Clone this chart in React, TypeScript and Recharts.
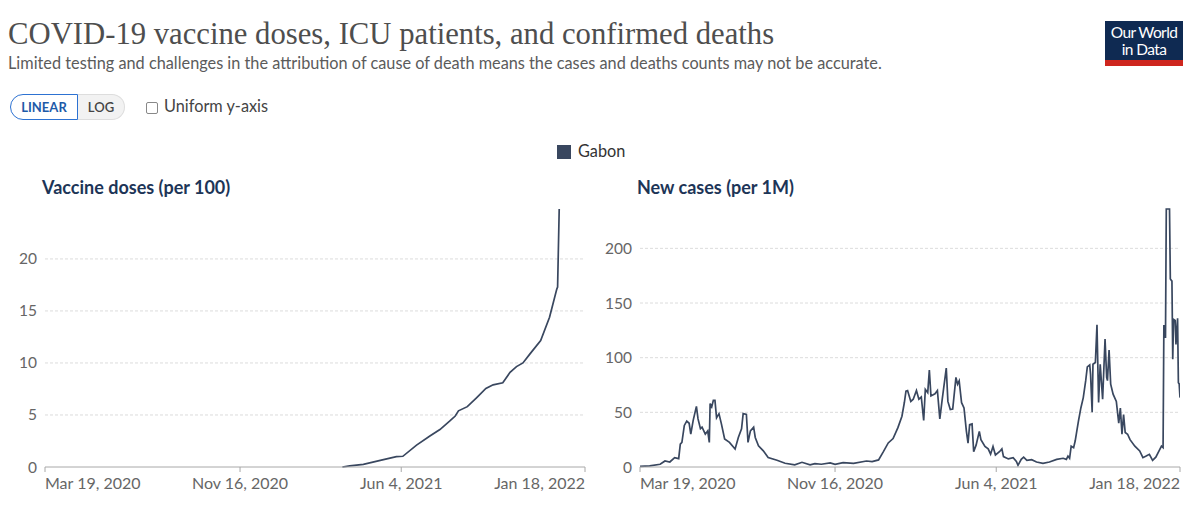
import React from "react";
import { LineChart, Line, XAxis, YAxis, ReferenceLine } from "recharts";

// x values are days counted from Mar 19, 2020
const tickDays = [0, 242, 442, 670];
const tickLabels = ["Mar 19, 2020", "Nov 16, 2020", "Jun 4, 2021", "Jan 18, 2022"];

const vaccineTicks = [0, 5, 10, 15, 20];
const caseTicks = [0, 50, 100, 150, 200];

const vaccineDays = [
  369, 378, 395, 416, 436, 444, 461, 478, 490, 502, 509, 513, 524, 536, 547,
  556, 568, 577, 585, 593, 602, 615, 626, 635, 636, 638,
];
const vaccineDoses = [
  0, 0.1, 0.26, 0.64, 1.0, 1.03, 2.1, 3.0, 3.6, 4.4, 4.9, 5.4, 5.8, 6.7, 7.55,
  7.9, 8.1, 9.1, 9.65, 10.0, 10.9, 12.15, 14.4, 17.1, 17.3, 24.8,
];

const caseDays = [
  0, 12, 25, 31, 37, 43, 48, 50, 52, 55, 58, 61, 63, 66, 70, 72, 75, 77, 81, 84,
  86, 87, 89, 91, 93, 95, 98, 101, 105, 111, 118, 122, 126, 128, 132, 134, 137,
  141, 143, 147, 153, 159, 170, 180, 192, 201, 211, 217, 225, 236,
  242, 252, 265, 281, 288, 296, 302, 308, 314, 320, 325, 328, 330, 332, 336,
  339, 343, 346, 349, 352, 354, 357, 359, 361, 366, 369, 372, 375, 380, 382,
  385, 388, 392, 394, 396, 399, 402, 405, 407, 409, 412, 414, 417, 421, 423,
  428, 432, 435, 438, 441, 446, 449, 451, 457, 463, 467, 469,
  473, 476, 480, 486, 492, 500, 508, 517, 525, 529, 531, 533, 535, 538, 540,
  542, 544, 547, 550, 553, 555, 558, 559, 561, 562, 565, 567, 569, 571, 574,
  577, 579, 580, 582, 584, 587, 591, 594, 596, 598, 600, 602, 605, 608, 614,
  620, 624, 628, 632, 636, 640, 644, 647, 649, 650, 652, 653, 657, 658, 660,
  661, 662, 664, 665, 667, 668, 669, 670,
];
const newCases = [
  0.6, 1, 2.5, 5.5, 4.6, 8.6, 7.7, 21, 22.5, 38, 42, 40, 30, 42.6, 55.5, 44, 35,
  36.4, 30, 33, 22.5, 58, 55, 61, 61, 45, 48.8, 39.5, 25.6, 22.5, 16.4, 27, 35,
  48.8, 48, 22.5, 33, 36.4, 27, 19.4, 14.8, 8.6, 6.2, 3.4, 1.9, 4.3, 1.9, 3,
  2.5, 3.7,
  2.5, 4, 3.4, 5.5, 5, 6.5, 14, 22, 26, 36, 46.5, 59, 69.5, 70, 60, 62, 70, 62,
  64, 42.5, 71, 68, 88.6, 65, 67, 70, 44, 62, 90.5, 60, 52.6, 53, 82, 75.7,
  78.8, 58.8, 54, 32.6, 21.8, 38.8, 39.4, 14, 20, 32.6, 25, 18.8, 16.6, 11.7,
  18.8, 11, 14, 16.6, 9.5, 7.4, 8.6, 5, 1.5,
  7, 9, 6, 6.7, 4.6, 3.4, 4.6, 7, 8, 7, 10, 8, 19, 17.7, 24, 33, 42, 54, 63.5,
  79, 91.6, 93.4, 85, 50, 94, 95.6, 130, 59, 94, 62, 117, 82, 79, 107, 75.7,
  66.6, 60, 40, 54, 30, 48, 31.5, 30, 25, 19, 14.7, 8.5, 10, 11.6, 6, 9, 14.7,
  19, 17.7, 130, 118, 236, 236, 172, 170, 98.6, 135, 134, 112, 136, 77, 76,
  63.5,
];

const vaccineData = vaccineDays.map((day, i) => ({ day, value: vaccineDoses[i] }));
const caseData = caseDays.map((day, i) => ({ day, value: newCases[i] }));

const LINE_COLOR = "#39475f";
const FONT = "Lato, 'Noto Sans', sans-serif";

const DateTick = (props: any) => {
  const { x, y, payload } = props;
  const idx = tickDays.indexOf(payload.value);
  const anchor = idx === 0 ? "start" : idx === tickDays.length - 1 ? "end" : "middle";
  return (
    <text x={x} y={y} dy={15} textAnchor={anchor} fill="#666" fontSize={16} fontFamily={FONT}>
      {tickLabels[idx]}
    </text>
  );
};

type PanelProps = {
  left: number;
  title: string;
  data: { day: number; value: number }[];
  yTicks: number[];
  yWidth: number;
  rightMargin: number;
};

const Panel = ({ left, title, data, yTicks, yWidth, rightMargin }: PanelProps) => (
  <div style={{ position: "absolute", left, top: 0 }}>
    <div
      style={{
        position: "absolute",
        left: yWidth - 3,
        top: 175,
        fontSize: 18,
        fontWeight: 700,
        color: "#1d3557",
        whiteSpace: "nowrap",
      }}
    >
      {title}
    </div>
    <div style={{ position: "absolute", left: 0, top: 200 }}>
      <LineChart
        width={600}
        height={300}
        data={data}
        margin={{ top: 8, right: rightMargin, bottom: 4, left: 0 }}
      >
        {yTicks.slice(1).map((t) => (
          <ReferenceLine key={t} y={t} stroke="#dcdcdc" strokeDasharray="3 2" />
        ))}
        <XAxis
          dataKey="day"
          type="number"
          domain={[0, 670]}
          ticks={tickDays}
          interval={0}
          height={30}
          stroke="#a8a8a8"
          tickSize={5}
          tick={<DateTick />}
          allowDataOverflow
        />
        <YAxis
          type="number"
          domain={[0, "dataMax"]}
          ticks={yTicks}
          interval={0}
          width={yWidth}
          axisLine={false}
          tickLine={false}
          tick={{ fill: "#666", fontSize: 15.5, fontFamily: FONT }}
        />
        <Line
          type="linear"
          dataKey="value"
          stroke={LINE_COLOR}
          strokeWidth={1.7}
          dot={false}
          isAnimationActive={false}
        />
      </LineChart>
    </div>
  </div>
);

export default function App() {
  return (
    <div
      style={{
        position: "relative",
        width: 1200,
        height: 515,
        margin: -8,
        background: "#fff",
        fontFamily: FONT,
        borderTop: "1px solid #ececec",
        boxSizing: "border-box",
        overflow: "hidden",
      }}
    >
      <div
        style={{
          position: "absolute",
          left: 8,
          top: 16,
          fontFamily: "'Liberation Serif', 'DejaVu Serif', serif",
          fontSize: 30.7,
          color: "#4e4e4e",
          whiteSpace: "nowrap",
        }}
      >
        COVID-19 vaccine doses, ICU patients, and confirmed deaths
      </div>
      <div
        style={{
          position: "absolute",
          left: 8,
          top: 52,
          fontSize: 16.3,
          color: "#5b5b5b",
          whiteSpace: "nowrap",
        }}
      >
        Limited testing and challenges in the attribution of cause of death means the cases and deaths counts may not be accurate.
      </div>

      {/* logo */}
      <div
        style={{
          position: "absolute",
          left: 1105,
          top: 20,
          width: 78,
          height: 45,
          background: "#0f2a52",
          color: "#fff",
          fontSize: 15.5,
          lineHeight: "18px",
          textAlign: "center",
          paddingTop: 2,
          boxSizing: "border-box",
          borderBottom: "6px solid #ce261e",
          letterSpacing: -0.6,
        }}
      >
        <div style={{ height: 17 }}>Our World</div>
        <div style={{ height: 17 }}>in Data</div>
      </div>

      {/* scale toggle */}
      <div
        style={{
          position: "absolute",
          left: 10,
          top: 93,
          height: 26,
          display: "flex",
          fontSize: 13,
          fontWeight: 700,
        }}
      >
        <div
          style={{
            width: 68,
            height: 26,
            boxSizing: "border-box",
            border: "1.5px solid #2d72d2",
            borderRadius: "13px 0 0 13px",
            color: "#1e5aa8",
            display: "flex",
            alignItems: "center",
            justifyContent: "center",
            background: "#fff",
          }}
        >
          LINEAR
        </div>
        <div
          style={{
            width: 47,
            height: 26,
            boxSizing: "border-box",
            border: "1px solid #ddd",
            borderLeft: "none",
            borderRadius: "0 13px 13px 0",
            color: "#444",
            display: "flex",
            alignItems: "center",
            justifyContent: "center",
            background: "#f2f2f2",
            fontWeight: 600,
          }}
        >
          LOG
        </div>
      </div>
      <div
        style={{
          position: "absolute",
          left: 146,
          top: 101,
          width: 12,
          height: 12,
          border: "1px solid #888",
          borderRadius: 2,
          boxSizing: "border-box",
        }}
      />
      <div style={{ position: "absolute", left: 164, top: 95, fontSize: 16.3, color: "#444" }}>
        Uniform y-axis
      </div>

      {/* legend */}
      <div
        style={{
          position: "absolute",
          left: 557,
          top: 144,
          width: 14,
          height: 14,
          background: LINE_COLOR,
        }}
      />
      <div style={{ position: "absolute", left: 578, top: 140, fontSize: 16.3, color: "#333" }}>
        Gabon
      </div>

      <Panel
        left={0}
        title="Vaccine doses (per 100)"
        data={vaccineData}
        yTicks={vaccineTicks}
        yWidth={45}
        rightMargin={15}
      />
      <Panel
        left={600}
        title="New cases (per 1M)"
        data={caseData}
        yTicks={caseTicks}
        yWidth={40}
        rightMargin={20}
      />
    </div>
  );
}
